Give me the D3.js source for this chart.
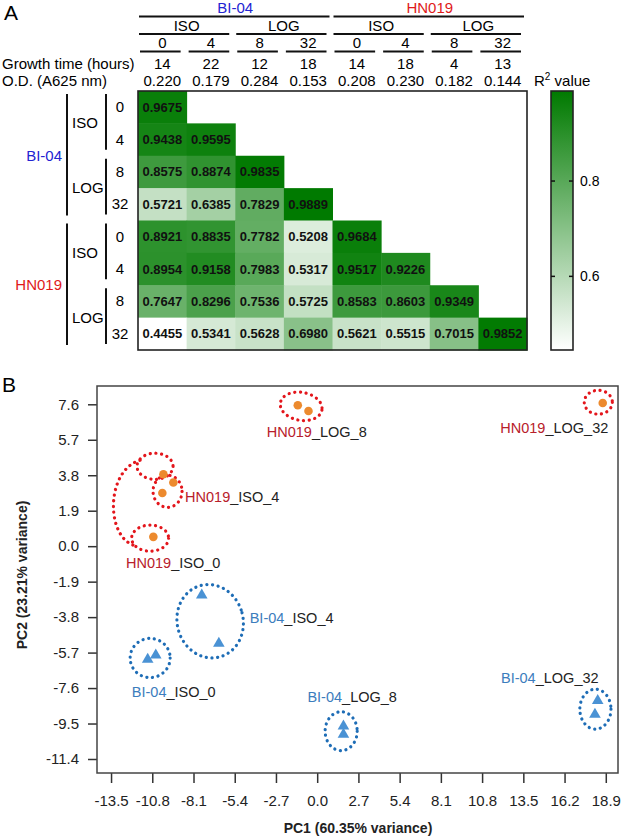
<!DOCTYPE html>
<html><head><meta charset="utf-8">
<script src="https://cdn.jsdelivr.net/npm/d3@7"></script>
<style>body{margin:0;background:#fff} svg{display:block;font-family:"Liberation Sans",Arial,sans-serif}</style>
</head><body><svg id="c" width="625" height="838"></svg>
<script>
// ---------- DATA ----------
const strains = ["BI-04", "HN019"];
const conditions = ["ISO", "LOG"];
const timeLabels = ["0", "4", "8", "32", "0", "4", "8", "32"];
const growthTime = ["14", "22", "12", "18", "14", "18", "4", "13"];
const odValues = ["0.220", "0.179", "0.284", "0.153", "0.208", "0.230", "0.182", "0.144"];
const r2Rows = [
  [0.9675],
  [0.9438, 0.9595],
  [0.8575, 0.8874, 0.9835],
  [0.5721, 0.6385, 0.7829, 0.9889],
  [0.8921, 0.8835, 0.7782, 0.5208, 0.9684],
  [0.8954, 0.9158, 0.7983, 0.5317, 0.9517, 0.9226],
  [0.7647, 0.8296, 0.7536, 0.5725, 0.8583, 0.8603, 0.9349],
  [0.4455, 0.5341, 0.5628, 0.6980, 0.5621, 0.5515, 0.7015, 0.9852]
];
const colorbarTicks = [0.6, 0.8];

const pcaXTicks = [-13.5, -10.8, -8.1, -5.4, -2.7, 0.0, 2.7, 5.4, 8.1, 10.8, 13.5, 16.2, 18.9];
const pcaYTicks = [7.6, 5.7, 3.8, 1.9, 0.0, -1.9, -3.8, -5.7, -7.6, -9.5, -11.4];
const hnPC1 = [-1.27, -0.57, 18.70, -10.07, -9.42, -10.14, -10.73];
const hnPC2 = [7.55, 7.24, 7.67, 3.85, 3.41, 2.85, 0.50];
const biPC1 = [-11.10, -10.57, -7.56, -6.44, 1.72, 1.72, 18.37, 18.19];
const biPC2 = [-6.07, -5.84, -2.62, -5.21, -9.64, -10.08, -8.28, -9.01];

// group labels (strain part + suffix), anchored in data units
const labelStrain = ["HN019", "HN019", "HN019", "HN019", "BI-04", "BI-04", "BI-04", "BI-04"];
const labelSuffix = ["_LOG_8", "_LOG_32", "_ISO_4", "_ISO_0", "_ISO_4", "_ISO_0", "_LOG_8", "_LOG_32"];
const labelPC1 = [-3.30, 11.99, -8.65, -12.52, -4.42, -12.14, -0.64, 12.04];
const labelPC2 = [5.83, 6.05, 2.35, -1.18, -4.11, -8.07, -8.34, -7.35];

// dotted rings around replicate groups (data units)
const ringStrain = ["HN019", "HN019", "HN019", "HN019", "HN019", "BI-04", "BI-04", "BI-04", "BI-04"];
const ringPC1 = [-1.05, 18.41, -9.80, -10.62, -10.94, -10.94, -7.01, 1.57, 18.22];
const ringPC2 = [7.49, 7.71, 2.94, 4.28, 0.43, -5.99, -4.02, -9.91, -8.73];
const ringR1 = [1.38, 0.92, 0.95, 1.18, 1.21, 1.31, 2.16, 1.05, 1.02];
const ringR2 = [0.75, 0.64, 0.86, 0.70, 0.70, 1.05, 1.98, 1.04, 1.07];
const ringTilt = [10, 0, 0, 0, 0, 0, -15, 0, 0];
// connecting arc between HN019 ISO rings (data units)
const arcPC1 = [-11.6, -13.89, -13.89, -11.80];
const arcPC2 = [4.6, 4.07, 0.32, 0.0];

// ---------- STYLE ----------
const strainHeadColor = {"BI-04": "#2323d2", "HN019": "#e01a1a"};
const strainPcaColor = {"BI-04": "#3c7dbd", "HN019": "#b8202a"};
const ringColor = {"BI-04": "#1e6db6", "HN019": "#e3161c"};

const svg = d3.select("#c");
const FS = 15;

// ---------- PANEL A ----------
svg.append("text").attr("x", 4).attr("y", 20).attr("font-size", 21).text("A");

const n = timeLabels.length;
const hx = d3.scaleBand().domain(d3.range(n)).range([138, 527]);
const hy = d3.scaleBand().domain(d3.range(n)).range([91, 350]);
const bw = hx.bandwidth(), bh = hy.bandwidth();
const flat = r2Rows.flat();
const cScale = d3.scaleLinear().domain([d3.min(flat), d3.max(flat)]).range(["#ffffff", "#007a00"]);

// header: strain
strains.forEach((s, si) => {
  const x0 = hx(si * 4), x1 = hx(si * 4 + 3) + bw;
  svg.append("text").attr("x", (x0 + x1) / 2).attr("y", 13).attr("text-anchor", "middle")
    .attr("font-size", FS).attr("fill", strainHeadColor[s]).text(s);
  svg.append("line").attr("x1", x0 + 1).attr("x2", x1 - 3).attr("y1", 16.5).attr("y2", 16.5)
    .attr("stroke", "#111").attr("stroke-width", 2);
  conditions.forEach((c, ci) => {
    const g0 = hx(si * 4 + ci * 2), g1 = hx(si * 4 + ci * 2 + 1) + bw;
    svg.append("text").attr("x", (g0 + g1) / 2).attr("y", 31).attr("text-anchor", "middle")
      .attr("font-size", FS).text(c);
    svg.append("line").attr("x1", g0 + 1).attr("x2", g1 - 6).attr("y1", 34).attr("y2", 34)
      .attr("stroke", "#111").attr("stroke-width", 2);
  });
});
timeLabels.forEach((t, i) => {
  const cx = hx(i) + bw / 2;
  svg.append("text").attr("x", cx).attr("y", 48).attr("text-anchor", "middle").attr("font-size", FS).text(t);
  svg.append("line").attr("x1", hx(i) + 2).attr("x2", hx(i) + bw - 6).attr("y1", 51.5).attr("y2", 51.5)
    .attr("stroke", "#111").attr("stroke-width", 2);
  svg.append("text").attr("x", cx).attr("y", 69).attr("text-anchor", "middle").attr("font-size", FS).text(growthTime[i]);
  svg.append("text").attr("x", cx).attr("y", 86).attr("text-anchor", "middle").attr("font-size", FS).text(odValues[i]);
});
svg.append("text").attr("x", 2).attr("y", 69).attr("font-size", FS).text("Growth time (hours)");
svg.append("text").attr("x", 2).attr("y", 86).attr("font-size", FS).text("O.D. (A625 nm)");

// row labels
strains.forEach((s, si) => {
  const r0 = hy(si * 4), r1 = hy(si * 4 + 3) + bh;
  svg.append("line").attr("x1", 67).attr("x2", 67).attr("y1", r0 + 3).attr("y2", r1 - 5)
    .attr("stroke", "#111").attr("stroke-width", 2);
  svg.append("text").attr("x", 62).attr("y", (r0 + r1) / 2 + 5).attr("text-anchor", "end")
    .attr("font-size", FS).attr("fill", strainHeadColor[s]).text(s);
  conditions.forEach((c, ci) => {
    const g0 = hy(si * 4 + ci * 2), g1 = hy(si * 4 + ci * 2 + 1) + bh;
    svg.append("line").attr("x1", 106).attr("x2", 106).attr("y1", g0 + 3).attr("y2", g1 - 6)
      .attr("stroke", "#111").attr("stroke-width", 2);
    svg.append("text").attr("x", 72).attr("y", (g0 + g1) / 2 + 5).attr("font-size", FS).text(c);
  });
});
timeLabels.forEach((t, i) => {
  svg.append("text").attr("x", 120).attr("y", hy(i) + bh / 2 + 5).attr("text-anchor", "middle")
    .attr("font-size", FS).text(t);
});

// cells
r2Rows.forEach((row, i) => {
  row.forEach((v, j) => {
    svg.append("rect").attr("x", hx(j)).attr("y", hy(i)).attr("width", bw + 0.5).attr("height", bh + 0.5)
      .attr("fill", cScale(v));
    svg.append("text").attr("x", hx(j) + bw / 2).attr("y", hy(i) + bh / 2 + 4.5)
      .attr("text-anchor", "middle").attr("font-size", 13).attr("font-weight", "bold").attr("fill", "#111")
      .text(v.toFixed(4));
  });
});
svg.append("rect").attr("x", 138).attr("y", 91).attr("width", 389).attr("height", 259)
  .attr("fill", "none").attr("stroke", "#222").attr("stroke-width", 1.6);

// colorbar
const defs = svg.append("defs");
const grad = defs.append("linearGradient").attr("id", "cg").attr("x1", 0).attr("y1", 1).attr("x2", 0).attr("y2", 0);
d3.range(0, 1.0001, 0.1).forEach(t => {
  const v = cScale.domain()[0] + t * (cScale.domain()[1] - cScale.domain()[0]);
  grad.append("stop").attr("offset", t).attr("stop-color", cScale(v));
});
const cbY = d3.scaleLinear().domain(cScale.domain()).range([350, 91]);
svg.append("rect").attr("x", 551).attr("y", 91).attr("width", 22).attr("height", 259)
  .attr("fill", "url(#cg)").attr("stroke", "#222").attr("stroke-width", 1.6);
colorbarTicks.forEach(t => {
  svg.append("line").attr("x1", 551).attr("x2", 555).attr("y1", cbY(t)).attr("y2", cbY(t)).attr("stroke", "#111").attr("stroke-width", 1.5);
  svg.append("line").attr("x1", 569).attr("x2", 573).attr("y1", cbY(t)).attr("y2", cbY(t)).attr("stroke", "#111").attr("stroke-width", 1.5);
  svg.append("text").attr("x", 580).attr("y", cbY(t) + 5).attr("font-size", 14).text(t.toFixed(1));
});
const r2t = svg.append("text").attr("x", 534).attr("y", 86).attr("font-size", FS);
r2t.append("tspan").text("R");
r2t.append("tspan").attr("font-size", 10).attr("dy", -6).text("2");
r2t.append("tspan").attr("dy", 6).text(" value");

// ---------- PANEL B ----------
svg.append("text").attr("x", 2).attr("y", 392).attr("font-size", 21).text("B");
const px = d3.scaleLinear().domain([-14.42, 19.7]).range([97, 618]);
const py = d3.scaleLinear().domain([-12.15, 8.58]).range([773, 386]);

const yAxis = svg.append("g").attr("transform", "translate(97,0)")
  .call(d3.axisLeft(py).tickValues(pcaYTicks).tickFormat(d => d.toFixed(1)).tickSize(9).tickPadding(9));
const xAxis = svg.append("g").attr("transform", "translate(0,773)")
  .call(d3.axisBottom(px).tickValues(pcaXTicks).tickFormat(d => d.toFixed(1)).tickSize(10).tickPadding(12));
[yAxis, xAxis].forEach(a => {
  a.select(".domain").remove();
  a.selectAll(".tick line").attr("stroke", "#333").attr("stroke-width", 1.5);
  a.selectAll(".tick text").attr("font-size", FS).attr("fill", "#222")
    .attr("font-family", "'Liberation Sans', Arial, sans-serif");
});
svg.append("rect").attr("x", 97).attr("y", 386).attr("width", 521).attr("height", 387)
  .attr("fill", "none").attr("stroke", "#444").attr("stroke-width", 1.5);

svg.append("text").attr("x", 358).attr("y", 833).attr("text-anchor", "middle")
  .attr("font-size", 14).attr("font-weight", "bold").attr("fill", "#222").text("PC1 (60.35% variance)");
svg.append("text").attr("transform", "translate(27,575) rotate(-90)").attr("text-anchor", "middle")
  .attr("font-size", 14).attr("font-weight", "bold").attr("fill", "#222").text("PC2 (23.21% variance)");

// rings
const dotStyle = sel => sel.attr("fill", "none").attr("stroke-width", 3.2)
  .attr("stroke-dasharray", "0.1 5.6").attr("stroke-linecap", "round");
ringPC1.forEach((cx, i) => {
  const X = px(cx), Y = py(ringPC2[i]);
  const rx = px(ringR1[i]) - px(0), ry = py(0) - py(ringR2[i]);
  svg.append("ellipse").attr("cx", 0).attr("cy", 0).attr("rx", rx).attr("ry", ry)
    .attr("transform", `translate(${X},${Y}) rotate(${ringTilt[i]})`)
    .attr("stroke", ringColor[ringStrain[i]]).call(dotStyle);
});
const arcPath = d3.path();
arcPath.moveTo(px(arcPC1[0]), py(arcPC2[0]));
arcPath.bezierCurveTo(px(arcPC1[1]), py(arcPC2[1]), px(arcPC1[2]), py(arcPC2[2]), px(arcPC1[3]), py(arcPC2[3]));
svg.append("path").attr("d", arcPath.toString()).attr("stroke", ringColor["HN019"]).call(dotStyle);

// points
hnPC1.forEach((v, i) => {
  svg.append("circle").attr("cx", px(v)).attr("cy", py(hnPC2[i])).attr("r", 4.3).attr("fill", "#ec8a2e");
});
const tri = d3.symbol().type(d3.symbolTriangle).size(58);
biPC1.forEach((v, i) => {
  svg.append("path").attr("d", tri()).attr("transform", `translate(${px(v)},${py(biPC2[i])})`).attr("fill", "#4a92d4");
});

// labels
labelPC1.forEach((v, i) => {
  const t = svg.append("text").attr("x", px(v)).attr("y", py(labelPC2[i])).attr("font-size", 14.5);
  t.append("tspan").attr("fill", strainPcaColor[labelStrain[i]]).text(labelStrain[i]);
  t.append("tspan").attr("fill", "#222").text(labelSuffix[i]);
});
</script></body></html>
